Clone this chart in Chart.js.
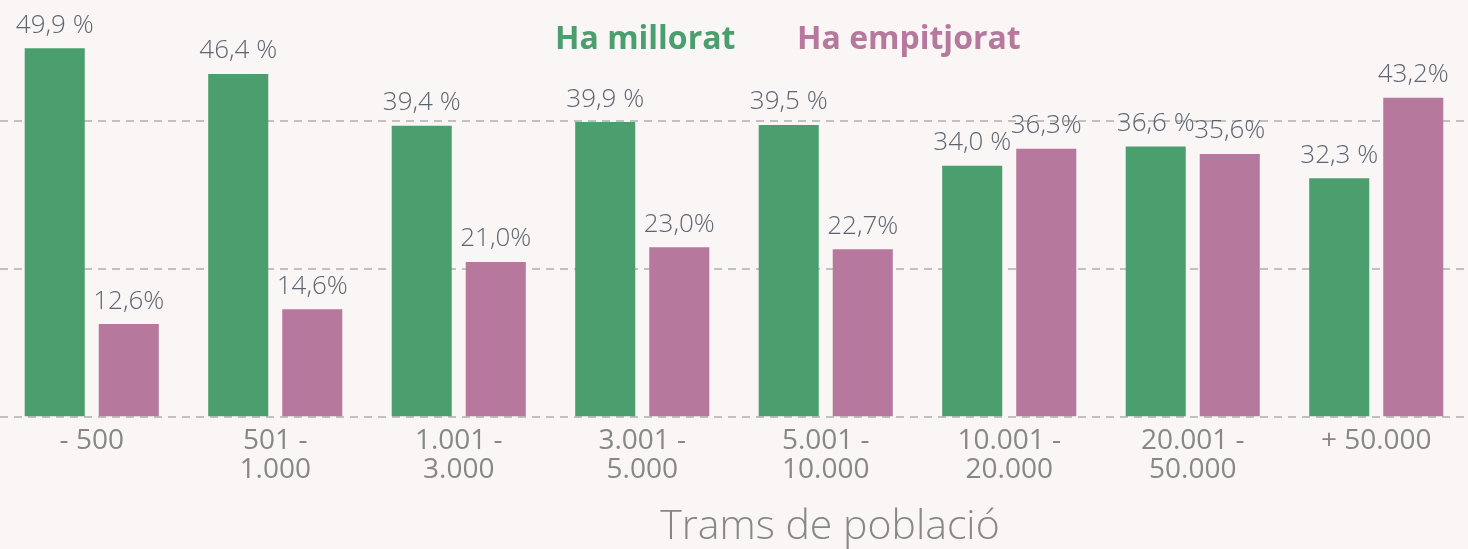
<!DOCTYPE html>
<html>
<head>
<meta charset="utf-8">
<script src="https://cdn.jsdelivr.net/npm/chart.js@4/dist/chart.umd.min.js"></script>
<style>
  html, body { margin: 0; padding: 0; background: #f9f6f5; }
  #wrap { width: 1468px; height: 549px; position: relative; }
</style>
</head>
<body>
<div id="wrap"><canvas id="myChart"></canvas></div>
<script>
// categories (trams de població)
const trams = [
  ["- 500"],
  ["501 -", "1.000"],
  ["1.001 -", "3.000"],
  ["3.001 -", "5.000"],
  ["5.001 -", "10.000"],
  ["10.001 -", "20.000"],
  ["20.001 -", "50.000"],
  ["+ 50.000"],
];

const millorat = [49.9, 46.4, 39.4, 39.9, 39.5, 34.0, 36.6, 32.3];
const empitjorat = [12.6, 14.6, 21.0, 23.0, 22.7, 36.3, 35.6, 43.2];

const gridValues = [0, 20, 40];
const axisTitle = "Trams de població";

const green = "#4b9e6d";
const pink = "#b6789c";
const labelGray = "#5f6570";
const tickGray = "#878787";
const fontFamily = "'Open Sans', Lato, sans-serif";

// value labels over bars + legend + axis title
const extrasPlugin = {
  id: "extras",
  afterDatasetsDraw: (chart) => {
    const ctx = chart.ctx;
    ctx.save();
    ctx.font = `300 26px ${fontFamily}`;
    ctx.fillStyle = labelGray;
    ctx.textAlign = "center";
    ctx.textBaseline = "bottom";
    chart.data.datasets.forEach((ds, di) => {
      const meta = chart.getDatasetMeta(di);
      meta.data.forEach((bar, i) => {
        const txt = ds.data[i].toFixed(1).replace(".", ",") + ds.suffix;
        ctx.fillText(txt, bar.x, bar.y - 10);
      });
    });

    // legend (text only, coloured)
    ctx.font = `bold 32px ${fontFamily}`;
    ctx.textAlign = "left";
    ctx.textBaseline = "middle";
    const legendX = [555, 797];
    chart.data.datasets.forEach((ds, di) => {
      ctx.fillStyle = ds.backgroundColor;
      ctx.fillText(ds.label, legendX[di], 40);
    });

    // x axis title
    ctx.font = `300 41px ${fontFamily}`;
    ctx.fillStyle = tickGray;
    ctx.textAlign = "center";
    ctx.fillText(axisTitle, 830, 527);
    ctx.restore();
  },
};

const canvaTagId = document.getElementById("myChart");

const chart = new Chart(canvaTagId, {
  type: "bar",
  data: {
    labels: trams,
    datasets: [
      {
        label: "Ha millorat",
        data: millorat,
        backgroundColor: green,
        suffix: " %",
        categoryPercentage: 0.807,
        barPercentage: 0.811,
      },
      {
        label: "Ha empitjorat",
        data: empitjorat,
        backgroundColor: pink,
        suffix: "%",
        categoryPercentage: 0.807,
        barPercentage: 0.811,
      },
    ],
  },
  options: {
    responsive: true,
    maintainAspectRatio: false,
    animation: false,
    layout: { padding: { top: 3, bottom: 64, left: 0, right: 0 } },
    scales: {
      x: {
        grid: { display: false },
        border: { display: false },
        ticks: {
          color: tickGray,
          padding: 1,
          maxRotation: 0,
          autoSkip: false,
          font: { family: fontFamily, size: 28, weight: 400, lineHeight: 1.03 },
        },
      },
      y: {
        min: 0,
        max: 56,
        afterFit: (scale) => {
          scale.width = 0;
        },
        ticks: { display: false, stepSize: 20 },
        border: { display: false, dash: [8, 6] },
        grid: {
          lineWidth: 2,
          drawTicks: false,
          color: (c) => (gridValues.includes(c.tick.value) ? "#c2c0bf" : "rgba(0,0,0,0)"),
        },
      },
    },
    plugins: {
      legend: { display: false },
      tooltip: { enabled: false },
    },
  },
  plugins: [extrasPlugin],
});
</script>
</body>
</html>
